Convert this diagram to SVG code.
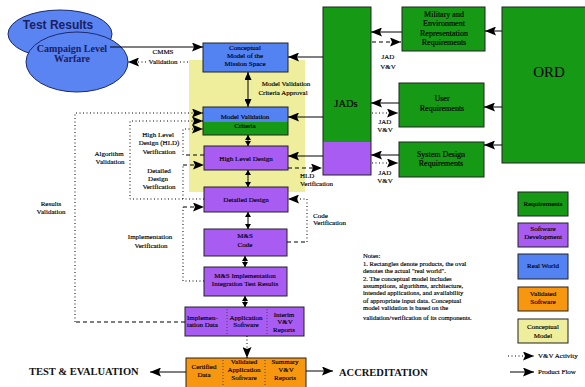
<svg xmlns="http://www.w3.org/2000/svg" width="585" height="387" viewBox="0 0 585 387">
<defs>
<marker id="ah" markerUnits="userSpaceOnUse" markerWidth="12" markerHeight="9" refX="11" refY="4.5" orient="auto"><path d="M0,0 L11,4.5 L0,9 L2,4.5 z" fill="#000"/></marker>
<marker id="ma" markerUnits="userSpaceOnUse" markerWidth="9" markerHeight="7" refX="8" refY="3.5" orient="auto-start-reverse"><path d="M0,0 L8,3.5 L0,7 z" fill="#000"/></marker>
<marker id="sa" markerUnits="userSpaceOnUse" markerWidth="6" markerHeight="6" refX="5" refY="3" orient="auto-start-reverse"><path d="M0,0 L5,3 L0,6 z" fill="#000"/></marker>
</defs>
<style>
.t{font-family:"Liberation Serif","Times New Roman",serif;font-size:7px;fill:#000;stroke:#000;stroke-width:0.15}
.r{font-size:8px}
.c{text-anchor:middle}
.bx{stroke:#222;stroke-width:1}
.g{fill:#169a16}
.p{fill:#a85cf2}
.b{fill:#5383f3}
.o{fill:#f7960f}
.y{fill:#eeee9c}
.sl{stroke:#000;stroke-width:1;fill:none}
.ds{stroke:#000;stroke-width:1;fill:none;stroke-dasharray:4 3}
.dt{stroke:#000;stroke-width:1;fill:none;stroke-dasharray:1 2.5}
.dv{stroke:#333;stroke-width:0.8;fill:none;stroke-dasharray:1 2}
.big{font-family:"Liberation Serif","Times New Roman",serif;font-weight:bold;font-size:10.5px;fill:#111}
</style>
<rect width="585" height="387" fill="#fff"/>
<rect id="conceptual-area" x="189" y="60" width="116" height="132" class="y"/>

<g id="test-results">
<ellipse cx="60" cy="34" rx="52" ry="24" fill="#5a84f2" stroke="#1b2a6b" stroke-width="1"/>
<text x="58" y="29" text-anchor="middle" font-family="Liberation Sans, Arial, sans-serif" font-weight="bold" font-size="12" fill="#1a2060">Test Results</text>
</g>
<g id="campaign-level-warfare">
<ellipse cx="77" cy="62" rx="51" ry="30" fill="#5a84f2" stroke="#1b2a6b" stroke-width="1"/>
<text x="72" y="52" class="big c" style="font-size:10px;fill:#1a2060">Campaign Level</text>
<text x="72" y="62" class="big c" style="font-size:10px;fill:#1a2060">Warfare</text>
</g>

<g id="conceptual-model">
<rect x="203" y="43" width="85" height="29" class="bx b"/>
<text class="t c" x="245" y="50">Conceptual</text>
<text class="t c" x="245" y="58">Model of the</text>
<text class="t c" x="245" y="66">Mission Space</text>
</g>
<g id="model-validation-criteria">
<rect x="203" y="107" width="85" height="15" class="b"/>
<rect x="203" y="122" width="85" height="13" class="g"/>
<rect x="203" y="107" width="85" height="28" fill="none" class="bx"/>
<text class="t c" x="245" y="119">Model Validation</text>
<text class="t c" x="245" y="128">Criteria</text>
</g>
<g id="high-level-design">
<rect x="204" y="146" width="84" height="24" class="bx p"/>
<text class="t c" x="246" y="161">High Level Design</text>
</g>
<g id="detailed-design">
<rect x="204" y="187" width="84" height="25" class="bx p"/>
<text class="t c" x="246" y="202">Detailed Design</text>
</g>
<g id="ms-code">
<rect x="204" y="229" width="83" height="27" class="bx p"/>
<text class="t c" x="245" y="238">M&amp;S</text>
<text class="t c" x="245" y="247">Code</text>
</g>
<g id="integration-test-results">
<rect x="204" y="267" width="83" height="29" class="bx p"/>
<text class="t c" x="245" y="278">M&amp;S Implementation</text>
<text class="t c" x="245" y="286">Integration Test Results</text>
</g>
<g id="application-software">
<rect x="185" y="307" width="119" height="29" class="bx p"/>
<line x1="227" y1="309" x2="227" y2="334" class="dv"/>
<line x1="267" y1="309" x2="267" y2="334" class="dv"/>
<text class="t" x="187" y="320">Implemen-</text>
<text class="t" x="187" y="327">tation Data</text>
<text class="t c" x="246" y="320">Application</text>
<text class="t c" x="246" y="327">Software</text>
<text class="t c" x="284" y="317">Interim</text>
<text class="t c" x="285" y="324">V&amp;V</text>
<text class="t c" x="284" y="332">Reports</text>
</g>
<g id="certified-software">
<rect x="186" y="358" width="120" height="35" class="bx o"/>
<line x1="223" y1="360" x2="223" y2="387" class="dv"/>
<line x1="265" y1="360" x2="265" y2="387" class="dv"/>
<text class="t c" x="204" y="369">Certified</text>
<text class="t c" x="204" y="377">Data</text>
<text class="t c" x="244" y="364">Validated</text>
<text class="t c" x="244" y="372">Application</text>
<text class="t c" x="244" y="380">Software</text>
<text class="t c" x="285" y="364">Summary</text>
<text class="t c" x="286" y="372">V&amp;V</text>
<text class="t c" x="285" y="380">Reports</text>
</g>

<g id="jads">
<rect x="323" y="7" width="48" height="135" class="g"/>
<rect x="323" y="142" width="48" height="33" class="p"/>
<rect x="323" y="7" width="48" height="168" fill="none" class="bx"/>
<text class="t c" x="346" y="107" style="font-size:10.5px">JADs</text>
</g>
<g id="military-requirements">
<rect x="402" y="7" width="83" height="44" class="bx g"/>
<text class="t c r" x="444" y="17">Military and</text>
<text class="t c r" x="444" y="26">Environment</text>
<text class="t c r" x="444" y="36">Representation</text>
<text class="t c r" x="444" y="45">Requirements</text>
</g>
<g id="user-requirements">
<rect x="399" y="83" width="85" height="44" class="bx g"/>
<text class="t c r" x="442" y="101">User</text>
<text class="t c r" x="442" y="111">Requirements</text>
</g>
<g id="system-design-requirements">
<rect x="399" y="142" width="85" height="35" class="bx g"/>
<text class="t c r" x="441" y="157">System Design</text>
<text class="t c r" x="441" y="166">Requirements</text>
</g>
<g id="ord">
<rect x="502" y="7" width="90" height="156" class="bx g"/>
<text class="t c" x="549" y="77" style="font-size:15px;stroke-width:0">ORD</text>
</g>

<g id="connectors">
<path d="M110,47 H203" class="sl" marker-end="url(#ah)"/>
<path d="M146,62 H128" class="dt" marker-end="url(#ah)"/>
<path d="M180,62 H190" class="dt"/>
<path d="M248,72 V107" class="sl" marker-start="url(#ma)" marker-end="url(#ma)"/>
<path d="M248,135 V146" class="sl" marker-start="url(#sa)" marker-end="url(#sa)"/>
<path d="M248,170 V187" class="sl" marker-start="url(#sa)" marker-end="url(#sa)"/>
<path d="M248,212 V229" class="sl" marker-start="url(#sa)" marker-end="url(#sa)"/>
<path d="M245,256 V267" class="sl" marker-start="url(#sa)" marker-end="url(#sa)"/>
<path d="M245,296 V307" class="sl" marker-start="url(#sa)" marker-end="url(#sa)"/>
<path d="M247,336 V358" class="dt" marker-end="url(#ah)"/>
<path d="M186,372 H150" class="sl" marker-end="url(#ah)"/>
<path d="M306,371 H333" class="sl" marker-end="url(#ah)"/>
<path d="M323,57 H288" class="sl" marker-end="url(#ah)"/>
<path d="M323,117 H288" class="sl" marker-end="url(#ah)"/>
<path d="M323,156 H288" class="sl" marker-end="url(#ah)"/>
<path d="M288,168 H322" class="ds" marker-end="url(#ah)"/>
<path d="M502,31 H485" class="sl" marker-end="url(#ah)"/>
<path d="M402,32 H371" class="sl" marker-end="url(#ah)"/>
<path d="M372,42 H401" class="ds" marker-end="url(#ah)"/>
<path d="M502,107 H484" class="sl" marker-end="url(#ah)"/>
<path d="M399,103 H371" class="sl" marker-end="url(#ah)"/>
<path d="M372,113 H398" class="dt" marker-end="url(#ah)"/>
<path d="M502,145 H484" class="sl" marker-end="url(#ah)"/>
<path d="M399,155 H371" class="sl" marker-end="url(#ah)"/>
<path d="M372,163 H398" class="dt" marker-end="url(#ah)"/>
<path d="M185,322 H75" class="ds"/>
<path d="M75,322 V113 H203" class="dt" marker-end="url(#ah)"/>
<path d="M204,199 H130 V121 H203" class="dt" marker-end="url(#ah)"/>
<path d="M204,155 H183" class="ds"/>
<path d="M183,155 V129 H203" class="dt" marker-end="url(#ah)"/>
<path d="M183,199 V165" class="dt"/>
<path d="M183,165 H204" class="ds" marker-end="url(#ah)"/>
<path d="M204,281 H183 V207" class="dt"/>
<path d="M183,207 H204" class="ds" marker-end="url(#ah)"/>
<path d="M287,242 H307" class="ds"/>
<path d="M307,242 V199 H288" class="dt" marker-end="url(#ah)"/>
</g>

<g id="labels">
<text class="t c" x="163" y="54">CMMS</text>
<text class="t c" x="163" y="64">Validation</text>
<text class="t c" x="286" y="86">Model Validation</text>
<text class="t c" x="283" y="95">Criteria Approval</text>
<text class="t" x="300" y="178">HLD</text>
<text class="t" x="300" y="186">Verification</text>
<text class="t c" x="388" y="59">JAD</text>
<text class="t c" x="388" y="69">V&amp;V</text>
<text class="t c" x="385" y="124">JAD</text>
<text class="t c" x="385" y="132">V&amp;V</text>
<text class="t c" x="385" y="175">JAD</text>
<text class="t c" x="385" y="183">V&amp;V</text>
<text class="t c" x="51" y="206">Results</text>
<text class="t c" x="51" y="214">Validation</text>
<text class="t c" x="109" y="156">Algorithm</text>
<text class="t c" x="110" y="164">Validation</text>
<text class="t c" x="158" y="137">High Level</text>
<text class="t c" x="159" y="145">Design (HLD)</text>
<text class="t c" x="159" y="154">Verification</text>
<text class="t c" x="159" y="173">Detailed</text>
<text class="t c" x="158" y="181">Design</text>
<text class="t c" x="159" y="189">Verification</text>
<text class="t c" x="150" y="239">Implementation</text>
<text class="t c" x="151" y="248">Verification</text>
<text class="t" x="313" y="218">Code</text>
<text class="t" x="313" y="225">Verification</text>
<text class="big" x="29" y="375">TEST &amp; EVALUATION</text>
<text class="big" x="339" y="376">ACCREDITATION</text>
</g>

<g id="notes" class="t" style="font-size:6.6px">
<text x="363" y="258">Notes:</text>
<text x="363" y="266">1.  Rectangles denote products, the oval</text>
<text x="363" y="273">denotes the actual "real world".</text>
<text x="363" y="281">2.  The conceptual model includes</text>
<text x="363" y="288">assumptions, algorithms, architecture,</text>
<text x="363" y="295">intended applications, and availability</text>
<text x="363" y="303">of appropriate input data.  Conceptual</text>
<text x="363" y="310">model validation  is based on the</text>
<text x="363" y="320">validation/verification of its components.</text>
</g>

<g id="legend">
<rect x="518" y="192" width="50" height="24" class="bx g"/>
<text class="t c" x="543" y="206">Requirements</text>
<rect x="518" y="223" width="50" height="24" class="bx p"/>
<text class="t c" x="543" y="231">Software</text>
<text class="t c" x="543" y="239">Development</text>
<rect x="518" y="254" width="50" height="25" class="bx b"/>
<text class="t c" x="543" y="268">Real World</text>
<rect x="518" y="287" width="50" height="24" class="bx o"/>
<text class="t c" x="543" y="296">Validated</text>
<text class="t c" x="543" y="304">Software</text>
<rect x="518" y="319" width="50" height="24" class="bx y"/>
<text class="t c" x="543" y="329">Conceptual</text>
<text class="t c" x="543" y="338">Model</text>
<path d="M508,356 H534" class="dt" marker-end="url(#ah)"/>
<text class="t" x="538" y="358">V&amp;V Activity</text>
<path d="M510,372 H534" class="sl" marker-end="url(#ah)"/>
<text class="t" x="538" y="374">Product Flow</text>
</g>
</svg>
